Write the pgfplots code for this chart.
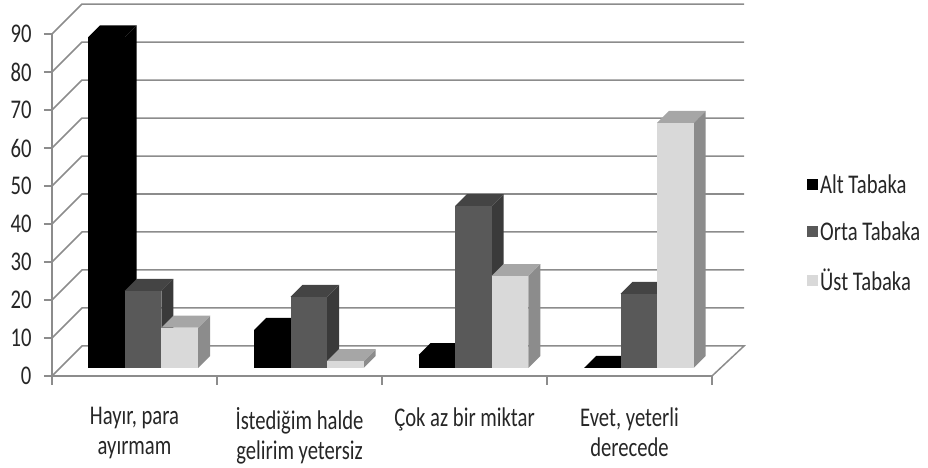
\documentclass[border=0pt]{standalone}
\usepackage{fontspec}
\setmainfont[FakeStretch=0.765]{Carlito}
\usepackage{pgfplots}
\pgfplotsset{compat=1.18}
\definecolor{gridc}{HTML}{8C8C8C}
\definecolor{dF}{HTML}{595959}
\definecolor{dT}{HTML}{444444}
\definecolor{dS}{HTML}{3A3A3A}
\definecolor{lF}{HTML}{D9D9D9}
\definecolor{lT}{HTML}{A6A6A6}
\definecolor{lS}{HTML}{8C8C8C}
% #1 left edge (px), #2 value, #3 front, #4 top, #5 side
\newcommand{\tdbar}[5]{%
  \pgfmathsetmacro\xa{#1+36.7}%
  \pgfmathsetmacro\xb{#1+48.7}%
  \pgfmathsetmacro\xc{#1+12}%
  \pgfmathsetmacro\xm{#1+18.35}%
  \pgfmathsetmacro\vt{#2+3.158}%
  \addplot[fill=#5,draw=none,forget plot] coordinates {(\xa,0) (\xb,3.158) (\xb,\vt) (\xa,#2)} -- cycle;
  \addplot[fill=#4,draw=none,forget plot] coordinates {(#1,#2) (\xa,#2) (\xb,\vt) (\xc,\vt)} -- cycle;
  \addplot[ybar,bar width=36.7pt,bar shift=0pt,fill=#3,draw=none,forget plot] coordinates {(\xm,#2)};
}
\begin{document}
\begin{tikzpicture}
\useasboundingbox (0,0) rectangle (928pt,468pt);
\begin{axis}[
  at={(52pt,92pt)},anchor=south west,
  scale only axis,width=660pt,height=342pt,
  xmin=0,xmax=4,ymin=0,ymax=90,clip=false,
  axis lines*=left,
  axis line style={-,draw=gridc,line width=1.5pt},
  ytick={0,10,...,90},
  xtick={0.5,1.5,2.5,3.5},
  xticklabels={{Hayır, para\\[1pt]ayırmam},{İstediğim halde\\[1pt]gelirim yetersiz},{Çok az bir miktar},{Evet, yeterli\\[1pt]derecede}},
  minor xtick={0,1,2,3,4},
  tick align=outside,
  major tick length=8pt,minor tick length=9pt,
  tick style={draw=gridc,line width=1.5pt},
  major x tick style={draw=none},
  ticklabel style={font=\fontsize{27}{29}\selectfont,text=black!85},
  xticklabel style={align=center,yshift=-20pt},
  yticklabel style={xshift=-9pt},
  /pgf/number format/assume math mode=true,
]
\addplot[gridc,line width=1.5pt] coordinates {(0,0) (0.1818,7.895) (4.194,7.895) (4,0)};
\addplot[gridc,line width=1.5pt] coordinates {(0,10) (0.1818,17.895) (4.194,17.895)};
\addplot[gridc,line width=1.5pt] coordinates {(0,20) (0.1818,27.895) (4.194,27.895)};
\addplot[gridc,line width=1.5pt] coordinates {(0,30) (0.1818,37.895) (4.194,37.895)};
\addplot[gridc,line width=1.5pt] coordinates {(0,40) (0.1818,47.895) (4.194,47.895)};
\addplot[gridc,line width=1.5pt] coordinates {(0,50) (0.1818,57.895) (4.194,57.895)};
\addplot[gridc,line width=1.5pt] coordinates {(0,60) (0.1818,67.895) (4.194,67.895)};
\addplot[gridc,line width=1.5pt] coordinates {(0,70) (0.1818,77.895) (4.194,77.895)};
\addplot[gridc,line width=1.5pt] coordinates {(0,80) (0.1818,87.895) (4.194,87.895)};
\addplot[gridc,line width=1.5pt] coordinates {(0,90) (0.1818,97.895) (4.194,97.895)};
\end{axis}
\begin{axis}[
  at={(52pt,92pt)},anchor=south west,
  scale only axis,width=660pt,height=342pt,
  xmin=52,xmax=712,ymin=-2.105,ymax=87.895,clip=false,
  axis lines=none,
  legend style={draw=none,fill=none,at={(axis cs:807,35.5)},anchor=west,
    row sep=23pt,font=\fontsize{27}{29}\selectfont,text=black!85,inner sep=0pt,
    nodes={inner xsep=3pt}},
  legend cell align=left,
]
\addlegendimage{only marks,mark=square*,mark size=5pt,mark options={draw=black,fill=black}}
\addlegendentry{Alt Tabaka}
\addlegendimage{only marks,mark=square*,mark size=5pt,mark options={draw=dF,fill=dF}}
\addlegendentry{Orta Tabaka}
\addlegendimage{only marks,mark=square*,mark size=5pt,mark options={draw=lF,fill=lF}}
\addlegendentry{Üst Tabaka}
\tdbar{88}{87}{black}{black}{black}
\tdbar{124.7}{20.3}{dF}{dT}{dS}
\tdbar{161.4}{10.6}{lF}{lT}{lS}
\tdbar{254}{10}{black}{black}{black}
\tdbar{290.5}{18.7}{dF}{dT}{dS}
\tdbar{327}{1.8}{lF}{lT}{lS}
\tdbar{418.5}{3.4}{black}{black}{black}
\tdbar{455}{42.6}{dF}{dT}{dS}
\tdbar{491.7}{24.2}{lF}{lT}{lS}
\tdbar{584}{0}{black}{black}{black}
\tdbar{620.5}{19.5}{dF}{dT}{dS}
\tdbar{657}{64.5}{lF}{lT}{lS}
\end{axis}
\end{tikzpicture}
\end{document}
